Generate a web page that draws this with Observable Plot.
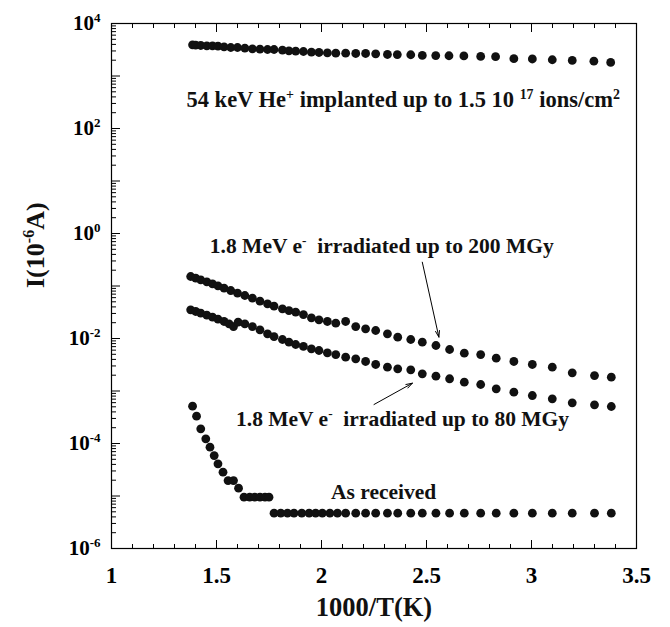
<!DOCTYPE html>
<html>
<head>
<meta charset="utf-8">
<script src="https://cdn.jsdelivr.net/npm/d3@7"></script>
<script src="https://cdn.jsdelivr.net/npm/@observablehq/plot@0.6"></script>
<style>
  html, body { margin: 0; padding: 0; background: #fff; }
  #chart svg { display: block; }
  #chart svg, #chart svg text, #chart svg tspan { font-family: "Liberation Serif", "Times New Roman", serif !important; font-weight: bold; }
</style>
</head>
<body>
<div id="chart"></div>
<script>
// ---------- data ----------
// 54 keV He+ implanted up to 1.5 10^17 ions/cm^2
const heX = [1.386,1.401,1.425,1.454,1.481,1.507,1.536,1.568,1.600,1.635,1.671,1.707,1.743,1.774,1.814,1.845,1.877,1.914,1.952,1.988,2.028,2.068,2.115,2.163,2.210,2.258,
             2.314,2.361,2.425,2.480,2.544,2.607,2.678,2.758,2.829,2.916,3.004,3.099,3.194,3.297,3.377];
const heI = [3926,3868,3813,3757,3757,3700,3594,3490,3490,3390,3290,3243,3198,3198,3105,3016,2972,2929,2845,2805,2763,2723,2723,2685,2685,2645,
             2570,2560,2540,2470,2450,2430,2410,2360,2330,2140,2110,2040,1980,1920,1810];

// 1.8 MeV e- irradiated up to 200 MGy
const e200X = [1.377,1.401,1.425,1.454,1.481,1.507,1.536,1.568,1.600,1.635,1.671,1.707,1.743,1.774,1.814,1.845,1.877,1.914,1.952,1.988,2.028,2.068,2.115,
               2.163,2.210,2.258,2.314,2.363,2.425,2.480,2.545,2.610,2.680,2.758,2.832,2.916,3.004,3.099,3.194,3.300,3.380];
const e200I = [0.1517,0.1409,0.1309,0.1199,0.1099,0.1007,0.0910,0.0820,0.0729,0.0659,0.0586,0.0514,0.0457,0.0413,0.0367,0.0341,0.0318,0.0286,0.0248,0.0227,0.0211,0.0196,0.0211,
               0.0169,0.0153,0.0142,0.0123,0.0106,0.00957,0.00851,0.00736,0.00617,0.00526,0.00495,0.00422,0.00365,0.00320,0.00284,0.00222,0.00197,0.00183];

// 1.8 MeV e- irradiated up to 80 MGy
const e80X = [1.377,1.401,1.425,1.454,1.481,1.507,1.536,1.560,1.581,1.603,1.635,1.671,1.707,1.743,1.774,1.814,1.845,1.877,1.914,1.952,1.988,2.028,2.068,2.115,
              2.163,2.210,2.258,2.314,2.363,2.425,2.480,2.545,2.610,2.680,2.758,2.832,2.916,3.004,3.099,3.194,3.300,3.380];
const e80I = [0.0352,0.0327,0.0304,0.0278,0.0255,0.0233,0.0211,0.0190,0.0169,0.0205,0.0190,0.0169,0.0146,0.0123,0.0109,0.00957,0.00851,0.00769,0.00705,0.00636,0.00591,0.00533,0.00495,0.00441,
              0.00410,0.00365,0.00320,0.00284,0.00264,0.00253,0.00212,0.00192,0.00171,0.00147,0.00133,0.00110,0.000950,0.000820,0.000709,0.000595,0.000545,0.000507];

// As received
const arX = [1.386,1.405,1.425,1.449,1.469,1.489,1.507,1.531,1.555,1.581,1.605,1.631,1.658,1.682,1.707,1.731,1.750,
             1.774,1.806,1.838,1.869,1.906,1.941,1.972,2.004,2.040,2.076,2.115,
             2.163,2.210,2.258,2.314,2.363,2.425,2.480,2.545,2.610,2.680,2.758,2.832,2.916,3.004,3.099,3.194,3.300,3.380];
const arI = [5.14e-4,3.32e-4,1.90e-4,1.23e-4,8.5e-5,5.9e-5,4.1e-5,2.84e-5,1.97e-5,1.97e-5,1.41e-5,9.5e-6,9.5e-6,9.5e-6,9.5e-6,9.5e-6,9.5e-6,
             4.7e-6,4.7e-6,4.7e-6,4.7e-6,4.7e-6,4.7e-6,4.7e-6,4.7e-6,4.7e-6,4.7e-6,4.7e-6,
             4.7e-6,4.7e-6,4.7e-6,4.7e-6,4.7e-6,4.7e-6,4.7e-6,4.7e-6,4.7e-6,4.7e-6,4.7e-6,4.7e-6,4.7e-6,4.7e-6,4.7e-6,4.7e-6,4.7e-6,4.7e-6];

// ticks and labels
const xTickValues = [1, 1.5, 2, 2.5, 3, 3.5];
const xTickLabels = ["1", "1.5", "2", "2.5", "3", "3.5"];
const yDecades = [1e-6, 1e-5, 1e-4, 1e-3, 1e-2, 1e-1, 1, 10, 100, 1000, 10000];
const yLabelValues = [1e-6, 1e-4, 1e-2, 1, 100, 10000];
const yTickLabels = ["10^{-6}", "10^{-4}", "10^{-2}", "10^{0}", "10^{2}", "10^{4}"];

// annotations (data coordinates)
const noteText = [
  "54 keV He^{+} implanted up to 1.5 10 ^{17} ions/cm^{2}",
  "1.8 MeV e^{-}\u00a0 irradiated up to 200 MGy",
  "1.8 MeV e^{-}\u00a0 irradiated up to 80 MGy",
  "As received"
];
const noteX = [2.389, 2.287, 2.386, 2.296];
const noteY = [349, 0.565, 2.93e-4, 1.18e-5];

const arrowX1 = [2.480, 2.250];
const arrowY1 = [0.284, 5.53e-4];
const arrowX2 = [2.559, 2.433];
const arrowY2 = [0.0106, 1.41e-3];

const xTitle = "1000/T(K)";
const yTitle = "I(10^{-6}A)";

// ---------- build ----------
const rows = (xs, ys, s) => xs.map((x, i) => ({x, y: ys[i], s}));
const points = [
  ...rows(heX, heI, "He"),
  ...rows(e200X, e200I, "e200"),
  ...rows(e80X, e80I, "e80"),
  ...rows(arX, arI, "ar")
];
const notes = noteText.map((t, i) => ({t, x: noteX[i], y: noteY[i], big: i === 0}));
const arrows = arrowX1.map((x1, i) => ({x1, y1: arrowY1[i], x2: arrowX2[i], y2: arrowY2[i]}));

const xMinor = d3.range(11, 35).map(v => v / 10).filter(v => Math.round(v * 10) % 5 !== 0);
const yMinor = [];
for (let e = -6; e < 4; e++) for (let k = 2; k <= 9; k++) yMinor.push(k * Math.pow(10, e));

const SERIF = "Liberation Serif";
const blank = () => "";

const chart = Plot.plot({
  width: 670,
  height: 627,
  marginLeft: 111,
  marginRight: 34,
  marginTop: 23,
  marginBottom: 79,
  style: "background: white; color: black; overflow: visible; font-weight: bold; font-family: 'Liberation Serif', serif;",
  x: {domain: [1, 3.5]},
  y: {type: "log", domain: [1e-6, 1e4]},
  marks: [
    Plot.axisX({anchor: "bottom", ticks: xTickValues, tickSize: -8, tickFormat: blank, label: null}),
    Plot.axisX({anchor: "bottom", ticks: xMinor, tickSize: -4, tickFormat: blank, label: null}),
    Plot.axisX({anchor: "top", ticks: xTickValues, tickSize: -8, tickFormat: blank, label: null}),
    Plot.axisX({anchor: "top", ticks: xMinor, tickSize: -4, tickFormat: blank, label: null}),
    Plot.axisX({anchor: "bottom", ticks: xTickValues, tickSize: 0, tickPadding: 18, fontSize: 23, fontFamily: SERIF,
                tickFormat: d => xTickLabels[xTickValues.indexOf(d)], label: null}),
    Plot.axisY({anchor: "left", ticks: yDecades, tickSize: -9, tickFormat: blank, label: null}),
    Plot.axisY({anchor: "left", ticks: yMinor, tickSize: -5, tickFormat: blank, label: null}),
    Plot.axisY({anchor: "left", ticks: yLabelValues, tickSize: 0, tickPadding: 11, fontSize: 21, fontFamily: SERIF,
                tickFormat: d => yTickLabels[yLabelValues.indexOf(d)], label: null}),
    Plot.frame({stroke: "black", strokeWidth: 1.2}),
    Plot.dot(points, {x: "x", y: "y", r: 4.4, fill: "#111", stroke: "none"}),
    Plot.arrow(arrows, {x1: "x1", y1: "y1", x2: "x2", y2: "y2", stroke: "black", strokeWidth: 1, headLength: 10, headAngle: 35}),
    Plot.text(notes.filter(d => d.big), {x: "x", y: "y", text: "t", fontSize: 22.5, fontFamily: SERIF, textAnchor: "middle", fill: "#111"}),
    Plot.text(notes.filter(d => !d.big), {x: "x", y: "y", text: "t", fontSize: 21.5, fontFamily: SERIF, textAnchor: "middle", fill: "#111"}),
    Plot.text([xTitle], {text: d => d, frameAnchor: "bottom", dy: 67, fontSize: 26.5, fontFamily: SERIF, fill: "#111"}),
    Plot.text([yTitle], {text: d => d, frameAnchor: "left", dx: -76, dy: 2, rotate: -90, fontSize: 26, fontFamily: SERIF, fill: "#111"})
  ]
});

chart.setAttribute("font-family", "Liberation Serif, serif");
document.getElementById("chart").appendChild(chart);

// turn ^{...} markup into real superscript tspans
const NS = "http://www.w3.org/2000/svg";
chart.querySelectorAll("text").forEach(t => {
  const s = t.textContent;
  if (!s.includes("^{")) return;
  const fs = parseFloat(getComputedStyle(t).fontSize) || 20;
  const shift = 0.38 * fs;
  const re = /\^\{([^}]*)\}/g;
  const parts = [];
  let last = 0, m;
  while ((m = re.exec(s))) {
    parts.push([s.slice(last, m.index), false]);
    parts.push([m[1], true]);
    last = re.lastIndex;
  }
  parts.push([s.slice(last), false]);
  while (t.firstChild) t.removeChild(t.firstChild);
  let raised = false;
  for (const [str, sup] of parts) {
    if (!str) continue;
    const ts = document.createElementNS(NS, "tspan");
    ts.textContent = str;
    if (sup) {
      ts.setAttribute("font-size", (0.62 * fs).toFixed(1));
      if (!raised) { ts.setAttribute("dy", (-shift).toFixed(1)); raised = true; }
    } else if (raised) {
      ts.setAttribute("dy", shift.toFixed(1));
      raised = false;
    }
    t.appendChild(ts);
  }
});
</script>
</body>
</html>
